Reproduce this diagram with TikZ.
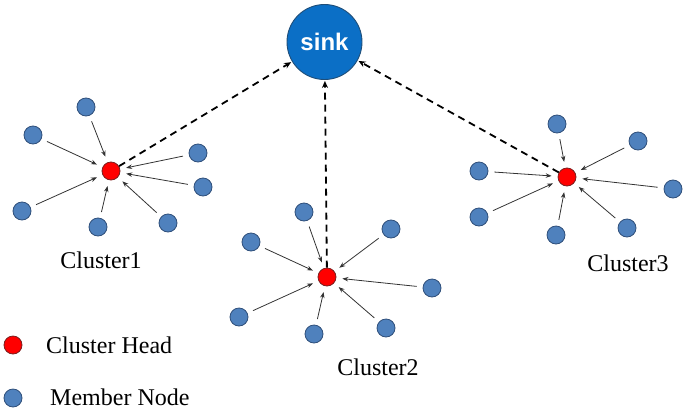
\documentclass[tikz,border=0pt]{standalone}
\usepackage{fontspec}
\setmainfont{Liberation Serif}
\newfontfamily\sinkfont{Liberation Sans}
\usetikzlibrary{arrows.meta}
\definecolor{memfill}{HTML}{4F81BD}
\definecolor{memdraw}{HTML}{2F4F7A}
\definecolor{sinkfill}{HTML}{0B6FC6}
\definecolor{sinkdraw}{HTML}{1F4E79}
\definecolor{headdraw}{HTML}{7A1F1F}
\definecolor{arrowcol}{HTML}{333333}
\begin{document}
\begin{tikzpicture}[x=1pt,y=-1pt,
  member/.style={circle,fill=memfill,draw=memdraw,line width=0.8pt,minimum size=18pt,inner sep=0pt},
  head/.style={circle,fill=red,draw=headdraw,line width=0.8pt,minimum size=18pt,inner sep=0pt},
  sinknode/.style={circle,fill=sinkfill,draw=sinkdraw,line width=0.9pt,minimum size=75pt,inner sep=0pt,text=white,font=\sinkfont\bfseries\fontsize{24}{28}\selectfont},
  feed/.style={draw=arrowcol,line width=0.8pt,-{Stealth[length=6pt,width=4.5pt]},shorten >=6pt,shorten <=6pt},
  uplink/.style={draw=black,line width=1.8pt,dash pattern=on 7pt off 5pt,-{Stealth[length=7pt,width=6pt]},shorten >=1pt},
  lbl/.style={font=\fontsize{24}{28}\selectfont,inner sep=0pt}]
\useasboundingbox (0,0) rectangle (685,410);

\node[sinknode] (sink) at (324.5,42) {sink};

% Cluster 1
\node[head] (h1) at (111,171) {};
\node[member] (a1) at (86,107) {};
\node[member] (a2) at (33,135) {};
\node[member] (a3) at (198,153) {};
\node[member] (a4) at (203,187) {};
\node[member] (a5) at (22,211) {};
\node[member] (a6) at (98,227) {};
\node[member] (a7) at (168,223) {};
\foreach \m in {a1,a2,a3,a4,a5,a6,a7} \draw[feed] (\m) -- (h1);
\node[lbl] (c1) at (101,260) {Cluster1};

% Cluster 2
\node[head] (h2) at (327,277) {};
\node[member] (b1) at (304,212) {};
\node[member] (b2) at (251,242) {};
\node[member] (b3) at (391,229) {};
\node[member] (b4) at (432,288) {};
\node[member] (b5) at (239,317) {};
\node[member] (b6) at (314,334) {};
\node[member] (b7) at (386,328) {};
\foreach \m in {b1,b2,b3,b4,b5,b6,b7} \draw[feed] (\m) -- (h2);
\node[lbl] (c2) at (378,367) {Cluster2};

% Cluster 3
\node[head] (h3) at (567,177) {};
\node[member] (d1) at (557,124) {};
\node[member] (d2) at (638,141) {};
\node[member] (d3) at (479,171) {};
\node[member] (d4) at (673,189) {};
\node[member] (d5) at (479,217) {};
\node[member] (d6) at (556,235) {};
\node[member] (d7) at (627,228) {};
\foreach \m in {d1,d2,d3,d4,d5,d6,d7} \draw[feed] (\m) -- (h3);
\node[lbl] (c3) at (628,263) {Cluster3};

% uplinks
\draw[uplink] (h1) -- (sink);
\draw[uplink] (h2) -- (sink);
\draw[uplink] (h3) -- (sink);

% legend
\node[head] (lh) at (13,345) {};
\node[lbl,anchor=west] (lht) at (46,345) {Cluster Head};
\node[member] (lm) at (13,398) {};
\node[lbl,anchor=west] (lmt) at (50,397) {Member Node};
\end{tikzpicture}
\end{document}
